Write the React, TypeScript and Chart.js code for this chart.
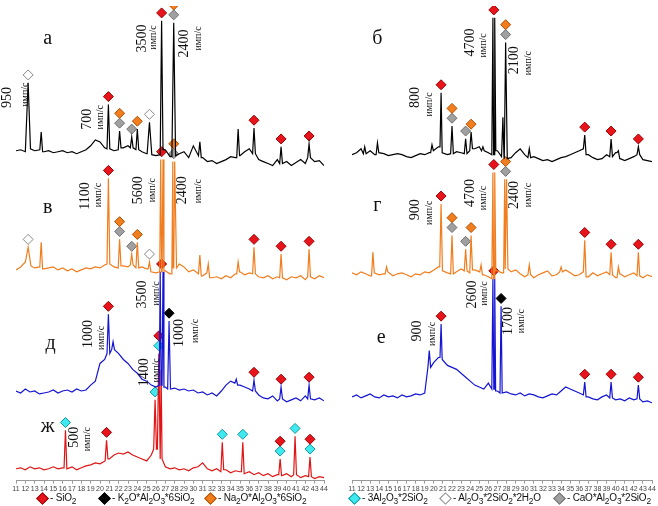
import React, { useEffect, useRef } from "react";
import { Chart, registerables } from "chart.js";
Chart.register(...registerables);

// ---- data ----
const xTicks = Array.from({ length: 34 }, (_, i) => 11 + i);
const baseStart = 11;
const baseStep = 0.5;

// left panel traces
const aOffset = 332;
const aBase = [3,4,2,5,3,4,2,3,1,2, 3,1,2,0,2,4,8,14,12,6, 5,3,4,6,8,6,4,2,0,-1, -2,-1,4,-3,-2,0,2,-4,8,-2, -4,-8,-7,-10,-8,-6,-3,-4,-2,2, 5,0,-6,-8,-10,-12,-6,-10,-8,-12, -9,-6,-10,-4,-8,-7,-12];
const aPeaks = [[12.3,72,0.25],[13.7,22],[20.9,50],[22.1,23],[23.4,17],[24.0,25],[25.3,32,0.25],[26.6,135],[27.9,133,0.2],[30.7,12],[34.8,25],[36.5,26],[39.4,7],[42.4,10]];
const aMarks = [[12.3,"W",0],[20.9,"S",0],[22.1,"C",0],[22.1,"N",1],[23.4,"C",0],[24.0,"N",0],[25.3,"W",0],[26.6,"S",0],[27.9,"C",0],[27.9,"N",1],[36.5,"S",0],[39.4,"S",0],[42.4,"S",0]];
const aLabels = [[10.1,389,"950",14],[12.0,392,"имп/с",10],[18.6,367,"700",14],[20.0,369,"имп/с",10],[24.5,449,"3500",14],[25.7,450,"имп/с",10],[29.0,444,"2400",14],[30.5,449,"имп/с",10]];

const vOffset = 214;
const vBase = [0,3,8,4,2,3,1,2,3,0, 2,-1,1,-2,0,2,1,3,2,5, 6,3,2,4,3,5,2,3,1,-2, -3,-2,-1,-4,2,6,3,-2,0,-4, -6,-3,-8,-7,-9,-6,-8,-4,-2,-5, -3,-4,-7,-8,-6,-9,-7,-8,-10,-7, -8,-6,-10,-7,-9,-6,-8];
const vPeaks = [[12.3,23,0.3],[13.7,28],[20.9,93],[22.1,31],[23.4,16],[24.0,28],[25.3,8],[26.5,112,0.1],[26.75,112,0.1],[27.8,110,0.1],[28.0,110,0.2],[30.7,15],[31.6,6],[34.8,8],[36.5,23],[39.4,16],[42.4,21]];
const vMarks = [[12.3,"W",0],[20.9,"S",0],[22.1,"C",0],[22.1,"N",1],[23.4,"C",0],[24.0,"N",0],[25.3,"W",0],[26.6,"S",0],[27.9,"C",0],[27.9,"N",1],[36.5,"S",0],[39.4,"S",0],[42.4,"S",0]];
const vLabels = [[18.4,289,"1100",14],[19.8,290,"имп/с",10],[24.1,295,"5600",14],[25.6,295,"имп/с",10],[28.8,295,"2400",14],[30.5,294,"имп/с",10]];

const dOffset = 89;
const dBase = [2,0,4,1,2,-1,0,1,3,0, 2,3,1,4,2,3,8,12,30,34, 40,44,40,34,30,24,20,14,12,8, 6,8,6,4,5,3,4,2,3,0, 1,-2,0,-3,2,8,12,10,8,6, 4,2,-2,-5,-6,-3,-8,-6,-9,-7, -5,-8,-3,-6,-7,-5,-8];
const dPeaks = [[20.9,80,0.15],[21.4,52],[26.45,123,0.1],[26.75,123,0.1],[27.4,73],[34.6,14],[36.5,13],[39.4,6],[42.4,8]];
const dMarks = [[20.9,"S",0],[26.6,"S",0],[27.4,"K",0],[36.5,"S",0],[39.4,"S",0],[42.4,"S",0]];
const dLabels = [[18.7,149,"1000",14],[20.1,145,"имп/с",10],[24.5,189,"3500",14],[26.0,190,"имп/с",10],[28.5,150,"1000",14],[30.2,152,"имп/с",10],[24.7,110,"1400",14],[26.0,112,"имп/с",10]];

const zhOffset = 12;
const zhBase = [0,1,-1,2,0,1,-1,0,2,0, 1,0,2,-1,1,3,4,6,5,8, 10,14,16,15,17,14,12,10,8,14, 20,10,2,0,1,-1,0,-2,1,2, 6,0,-2,0,-3,-1,-4,-2,-3,-5, -3,-6,-4,-7,-5,-8,-6,-7,-5,-8, -6,-9,-7,-8,-10,-8,-9];
const zhPeaks = [[16.3,39],[20.7,29],[25.9,70,0.15],[26.3,117,0.15],[26.55,100,0.1],[33.1,27],[35.3,27],[39.3,10],[40.9,33],[42.5,12]];
const zhMarks = [[16.3,"A",0],[20.7,"S",0],[25.9,"A",0],[26.3,"A",0],[26.3,"S",1],[33.1,"A",0],[35.3,"A",0],[39.3,"A",0],[39.3,"S",1],[40.9,"A",0],[42.5,"A",0],[42.5,"S",1]];
const zhLabels = [[17.3,44,"500",14],[18.7,42,"имп/с",10]];

// right panel traces
const bOffset = 329;
const bBase = [2,4,8,3,6,2,4,3,1,2, 3,2,0,-1,1,3,2,4,6,10, 4,2,3,5,4,3,6,8,10,6, 4,2,6,0,-2,-1,4,8,2,-1, 0,-2,-4,-3,-5,-3,-1,0,2,4, 6,8,2,-1,-3,-2,2,0,4,-2, -4,-2,0,2,-3,-4,-5];
const bPeaks = [[12.4,10],[13.8,14],[19.8,12],[20.8,65,0.12],[22.0,31],[23.5,18],[24.1,25],[25.4,10],[26.5,141,0.12],[26.7,141,0.12],[27.6,40],[27.9,116,0.18],[30.5,8],[36.6,22],[39.5,18],[40.3,6],[42.5,10]];
const bMarks = [[20.8,"S",0],[22.0,"C",0],[22.0,"N",1],[23.5,"C",0],[24.1,"N",0],[26.6,"S",0],[27.9,"C",0],[27.9,"N",1],[36.6,"S",0],[39.5,"S",0],[42.5,"S",0]];
const bLabels = [[18.0,389,"800",14],[19.5,382,"имп/с",10],[24.0,445,"4700",14],[25.5,442,"имп/с",10],[28.9,427,"2100",14],[30.4,424,"имп/с",10]];

const gOffset = 209;
const gBase = [2,0,3,1,-1,2,0,1,3,-1, 1,2,0,-2,1,0,3,2,5,8, 4,2,1,3,6,4,2,5,3,0, -2,-4,4,2,6,3,5,1,-2,0, -3,0,2,4,-1,0,3,5,2,-1, 0,3,-2,2,-1,1,3,0,-3,1, -2,0,2,-1,-3,0,-2];
const gPeaks = [[13.3,23],[14.8,8],[20.8,72],[22.0,40],[23.5,26],[24.1,40],[25.2,10],[26.5,104,0.12],[26.7,104,0.12],[27.8,97,0.12],[28.0,97,0.15],[30.5,10],[34.0,8],[36.6,35],[39.5,23],[40.3,8],[42.5,23]];
const gMarks = [[20.8,"S",0],[22.0,"C",0],[22.0,"N",1],[23.5,"C",0],[24.1,"N",0],[26.6,"S",0],[27.9,"C",0],[27.9,"N",1],[36.6,"S",0],[39.5,"S",0],[42.5,"S",0]];
const gLabels = [[18.0,275,"900",14],[19.5,272,"имп/с",10],[24.0,292,"4700",14],[25.5,287,"имп/с",10],[28.9,290,"2400",14],[30.4,290,"имп/с",10]];

const eOffset = 85;
const eBase = [0,2,-1,1,3,0,-1,2,0,1, -1,2,0,1,3,2,4,30,35,40, 38,32,30,28,24,20,16,12,10,8, 14,8,6,4,5,3,2,4,1,3, 2,0,-1,1,3,2,6,10,8,6, 4,2,0,-2,-3,0,2,-1,-3,-2, -4,-1,-3,-2,-5,-4,-6];
const ePeaks = [[19.5,47],[20.8,74,0.12],[26.5,120,0.12],[26.7,120,0.1],[27.4,92,0.12],[36.6,15],[39.5,15],[42.5,12]];
const eMarks = [[20.8,"S",0],[26.6,"S",0],[27.4,"K",0],[36.6,"S",0],[39.5,"S",0],[42.5,"S",0]];
const eLabels = [[18.2,152,"900",14],[19.8,149,"имп/с",10],[24.2,189,"2600",14],[25.6,190,"имп/с",10],[28.2,162,"1700",14],[29.6,162,"имп/с",10]];

const leftLetters = [[14.4,449,"а"],[14.4,277,"в"],[14.7,139,"д"],[14.4,55,"ж"]];
const rightLetters = [[13.8,449,"б"],[13.8,279,"г"],[14.2,145,"е"]];

const markStyle: Record<string, { bg: string; bd: string }> = {
  S: { bg: "#e8141c", bd: "#9a0000" },
  K: { bg: "#000000", bd: "#000000" },
  N: { bg: "#f07d1e", bd: "#b05000" },
  A: { bg: "#40e8f0", bd: "#109aa0" },
  W: { bg: "#ffffff", bd: "#888888" },
  C: { bg: "#a0a0a0", bd: "#707070" },
};

type Trace = { off: number; base: number[]; peaks: number[][]; marks: any[]; labels: any[]; color: string };

function tracePoints(t: Trace) {
  const pts: { x: number; y: number }[] = [];
  const nearBase = (x: number) => {
    const i = Math.max(0, Math.min(t.base.length - 1, Math.round((x - baseStart) / baseStep)));
    return t.base[i];
  };
  t.base.forEach((v, i) => {
    const x = baseStart + i * baseStep;
    const blocked = t.peaks.some((p) => Math.abs(p[0] - x) < (p[2] ?? 0.15) + 0.05);
    if (!blocked) pts.push({ x, y: t.off + v });
  });
  t.peaks.forEach((p) => {
    const w = p[2] ?? 0.15;
    pts.push({ x: p[0] - w, y: t.off + nearBase(p[0] - w) });
    pts.push({ x: p[0], y: t.off + p[1] });
    pts.push({ x: p[0] + w, y: t.off + nearBase(p[0] + w) });
  });
  pts.sort((a, b) => a.x - b.x);
  return pts;
}

function markPoints(t: Trace) {
  return t.marks.map((m) => {
    let h = 0;
    t.peaks.forEach((p) => { if (Math.abs(p[0] - m[0]) < 0.3 && p[1] > h) h = p[1]; });
    return { x: m[0], y: t.off + h + 8 + m[2] * 10, k: m[1] };
  });
}

function Panel({ traces, letters, left, width, padLeft }: { traces: Trace[]; letters: any[]; left: number; width: number; padLeft: number }) {
  const ref = useRef<HTMLCanvasElement>(null);
  useEffect(() => {
    const datasets: any[] = [];
    traces.forEach((t) => {
      datasets.push({ data: tracePoints(t), showLine: true, borderColor: t.color, borderWidth: 1.2, pointRadius: 0, tension: 0 });
    });
    traces.forEach((t) => {
      const mp = markPoints(t);
      datasets.push({
        data: mp,
        showLine: false,
        pointStyle: "rectRot",
        pointRadius: 5,
        pointBackgroundColor: mp.map((p) => markStyle[p.k].bg),
        pointBorderColor: mp.map((p) => markStyle[p.k].bd),
        pointBorderWidth: 1,
      });
    });
    const textPlugin = {
      id: "txt",
      afterDatasetsDraw(chart: any) {
        const { ctx, scales } = chart;
        const xs = scales.x, ys = scales.y;
        ctx.save();
        ctx.fillStyle = "#111";
        traces.forEach((t) => {
          t.labels.forEach((l: any) => {
            ctx.save();
            ctx.translate(xs.getPixelForValue(l[0]), ys.getPixelForValue(l[1]));
            ctx.rotate(-Math.PI / 2);
            ctx.textAlign = "center";
            ctx.textBaseline = "middle";
            ctx.font = `${l[3]}px "Liberation Serif"`;
            ctx.fillText(l[2], 0, 0);
            ctx.restore();
          });
        });
        letters.forEach((l) => {
          ctx.textAlign = "center";
          ctx.textBaseline = "middle";
          ctx.font = `20px "Liberation Serif"`;
          ctx.fillText(l[2], xs.getPixelForValue(l[0]), ys.getPixelForValue(l[1]));
        });
        ctx.restore();
      },
    };
    const chart = new Chart(ref.current!, {
      type: "scatter",
      data: { datasets },
      plugins: [textPlugin],
      options: {
        animation: false,
        responsive: true,
        maintainAspectRatio: false,
        layout: { padding: { left: padLeft, right: 6, top: 0, bottom: 0 } },
        plugins: { legend: { display: false }, tooltip: { enabled: false } },
        scales: {
          x: {
            type: "linear", min: 11, max: 44,
            afterBuildTicks: (s: any) => { s.ticks = xTicks.map((v) => ({ value: v })); },
            ticks: { font: { size: 7, family: "Liberation Sans" }, color: "#444", padding: 1, maxRotation: 0, autoSkip: false },
            grid: { drawOnChartArea: false, tickLength: 3, color: "#999" },
            border: { color: "#999" },
          },
          y: { display: false, min: 0, max: 482 },
        },
      } as any,
    });
    return () => chart.destroy();
  }, []);
  return (
    <div style={{ position: "absolute", left, top: 0, width, height: 494 }}>
      <canvas ref={ref} />
    </div>
  );
}

const Dia = ({ bg, bd }: { bg: string; bd: string }) => (
  <span style={{ display: "inline-block", width: 7, height: 7, background: bg, border: `1px solid ${bd}`, transform: "rotate(45deg)", marginRight: 3, verticalAlign: "middle" }} />
);

const legendItems: [number, string, any][] = [
  [38, "S", <>- SiO<sub>2</sub></>],
  [100, "K", <>- K<sub>2</sub>O*Al<sub>2</sub>O<sub>3</sub>*6SiO<sub>2</sub></>],
  [206, "N", <>- Na<sub>2</sub>O*Al<sub>2</sub>O<sub>3</sub>*6SiO<sub>2</sub></>],
  [350, "A", <>- 3Al<sub>2</sub>O<sub>3</sub>*2SiO<sub>2</sub></>],
  [441, "W", <>- Al<sub>2</sub>O<sub>3</sub>*2SiO<sub>2</sub>*2H<sub>2</sub>O</>],
  [555, "C", <>- CaO*Al<sub>2</sub>O<sub>3</sub>*2SiO<sub>2</sub></>],
];

export default function App() {
  const left: Trace[] = [
    { off: aOffset, base: aBase, peaks: aPeaks, marks: aMarks, labels: aLabels, color: "#000000" },
    { off: vOffset, base: vBase, peaks: vPeaks, marks: vMarks, labels: vLabels, color: "#f07d1e" },
    { off: dOffset, base: dBase, peaks: dPeaks, marks: dMarks, labels: dLabels, color: "#1414d2" },
    { off: zhOffset, base: zhBase, peaks: zhPeaks, marks: zhMarks, labels: zhLabels, color: "#e01414" },
  ];
  const right: Trace[] = [
    { off: bOffset, base: bBase, peaks: bPeaks, marks: bMarks, labels: bLabels, color: "#000000" },
    { off: gOffset, base: gBase, peaks: gPeaks, marks: gMarks, labels: gLabels, color: "#f07d1e" },
    { off: eOffset, base: eBase, peaks: ePeaks, marks: eMarks, labels: eLabels, color: "#1414d2" },
  ];
  return (
    <div style={{ position: "fixed", left: 0, top: 0, width: 658, height: 506, background: "#fff", overflow: "hidden" }}>
      <Panel traces={left} letters={leftLetters} left={0} width={330} padLeft={16} />
      <Panel traces={right} letters={rightLetters} left={336} width={322} padLeft={16} />
      {legendItems.map(([x, k, t], i) => (
        <div key={i} style={{ position: "absolute", left: x, top: 491, fontFamily: "Liberation Sans", fontSize: 10, color: "#111", whiteSpace: "nowrap", lineHeight: "14px", letterSpacing: -0.2 }}>
          <Dia bg={markStyle[k].bg} bd={markStyle[k].bd} />
          <span>{t}</span>
        </div>
      ))}
    </div>
  );
}
